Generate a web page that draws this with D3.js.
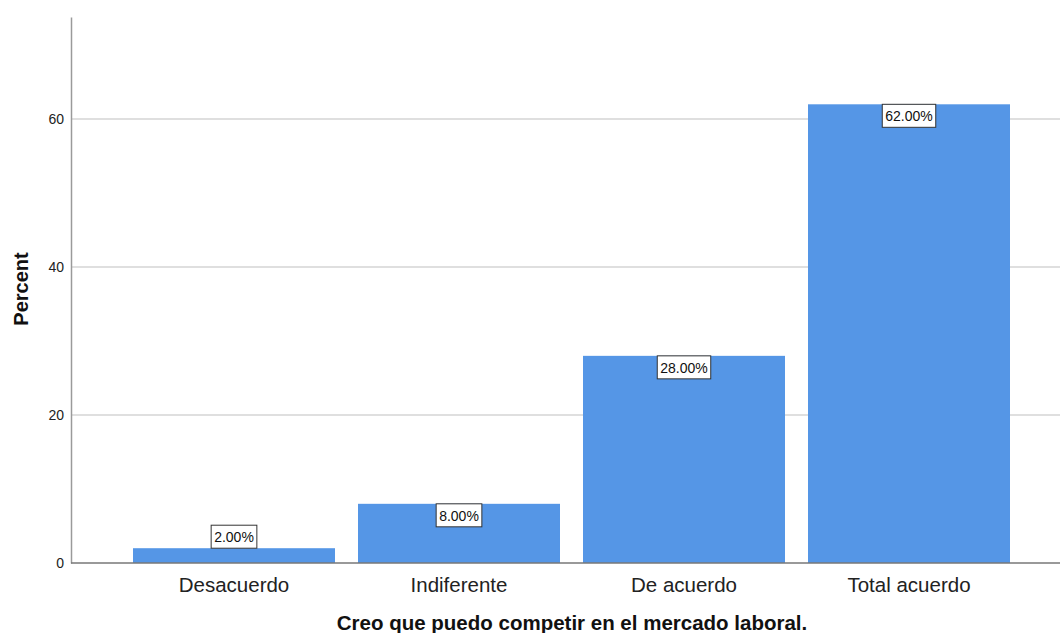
<!DOCTYPE html>
<html>
<head>
<meta charset="utf-8">
<script src="https://cdn.jsdelivr.net/npm/d3@7"></script>
<style>
  body { margin: 0; background: #fff; }
  svg { display: block; font-family: "Liberation Sans", Arial, sans-serif; }
</style>
</head>
<body>
<svg id="chart" width="1060" height="633"></svg>
<script>
const categories = ["Desacuerdo", "Indiferente", "De acuerdo", "Total acuerdo"];
const percents = [2, 8, 28, 62];
const yTicks = [0, 20, 40, 60];
const xTitle = "Creo que puedo competir en el mercado laboral.";
const yTitle = "Percent";

const svg = d3.select("#chart");
const plotLeft = 71, plotRight = 1060, plotTop = 17, plotBottom = 563;

const x = d3.scaleBand().domain(categories).range([121.5, 1021.5])
  .paddingInner(23 / 225).paddingOuter(23 / 450);
const y = d3.scaleLinear().domain([0, 73.8]).range([plotBottom, plotTop]);

// gridlines
svg.append("g").selectAll("line").data(yTicks.filter(t => t > 0)).join("line")
  .attr("x1", plotLeft).attr("x2", plotRight)
  .attr("y1", d => y(d)).attr("y2", d => y(d))
  .attr("stroke", "#d4d4d4").attr("stroke-width", 1.5);

// bars
svg.append("g").selectAll("rect").data(percents).join("rect")
  .attr("x", (d, i) => x(categories[i]))
  .attr("width", x.bandwidth())
  .attr("y", d => y(d))
  .attr("height", d => y(0) - y(d))
  .attr("fill", "#5596e6");

// y axis
const yAxis = d3.axisLeft(y).tickValues(yTicks).tickSize(0).tickPadding(7);
const gy = svg.append("g").attr("transform", `translate(${plotLeft},0)`).call(yAxis);
gy.select(".domain").attr("stroke", "#9a9a9a").attr("stroke-width", 1.5);
gy.selectAll("text").attr("font-size", 14).attr("fill", "#222")
  .attr("font-family", "Liberation Sans, Arial, sans-serif");

// x axis
const xAxis = d3.axisBottom(x).tickSize(0).tickPadding(14);
const gx = svg.append("g").attr("transform", `translate(0,${plotBottom})`).call(xAxis);
gx.select(".domain").remove();
gx.append("line").attr("x1", plotLeft).attr("x2", plotRight).attr("y1", 0).attr("y2", 0)
  .attr("stroke", "#777").attr("stroke-width", 1.5);
gx.selectAll(".tick text").attr("font-size", 20.5).attr("fill", "#222")
  .attr("font-family", "Liberation Sans, Arial, sans-serif");

// value labels
const labels = svg.append("g");
percents.forEach((d, i) => {
  const cx = x(categories[i]) + x.bandwidth() / 2;
  const bh = y(0) - y(d);
  const boxH = 23;
  const top = bh < boxH ? y(d) - boxH : y(d);
  const t = labels.append("text")
    .attr("x", cx).attr("y", top + boxH / 2 + 0.5)
    .attr("text-anchor", "middle").attr("dominant-baseline", "central")
    .attr("font-size", 14).attr("fill", "#111")
    .text(d3.format(".2f")(d) + "%");
  const bb = t.node().getBBox();
  labels.insert("rect", "text")
    .attr("x", cx - bb.width / 2 - 3).attr("y", top)
    .attr("width", bb.width + 6).attr("height", boxH)
    .attr("fill", "#fff").attr("stroke", "#333").attr("stroke-width", 1);
});

// titles
svg.append("text").attr("x", 572).attr("y", 630)
  .attr("text-anchor", "middle").attr("font-size", 20.5).attr("font-weight", "bold")
  .attr("fill", "#111").text(xTitle);
svg.append("text").attr("transform", "translate(28,289) rotate(-90)")
  .attr("text-anchor", "middle").attr("font-size", 20).attr("font-weight", "bold")
  .attr("fill", "#111").text(yTitle);
</script>
</body>
</html>
